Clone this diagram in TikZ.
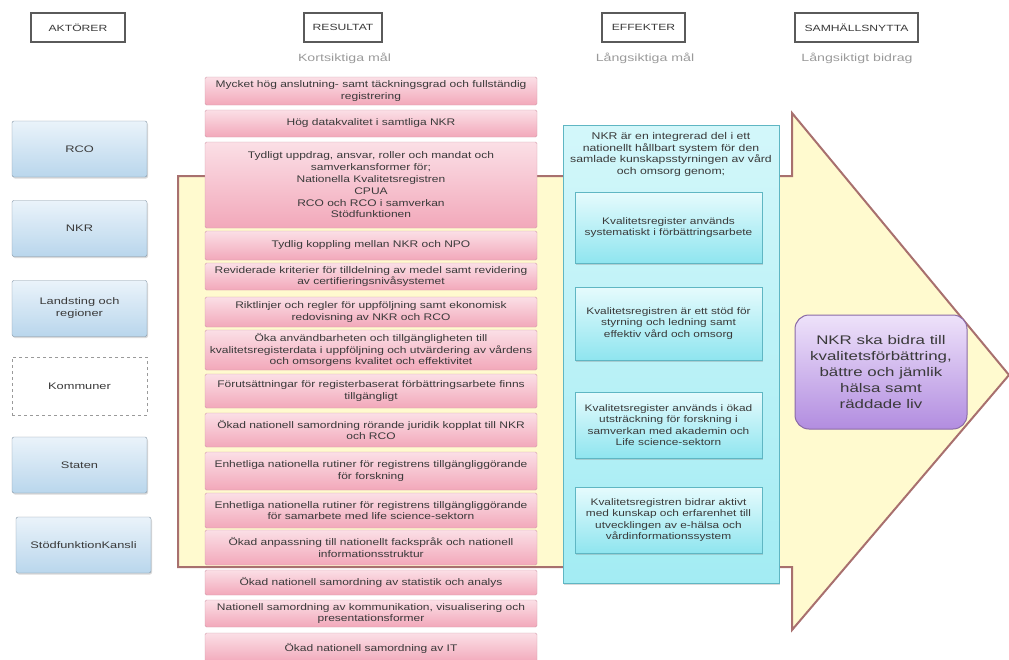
\documentclass[tikz,border=0pt]{standalone}
\usepackage{fontspec}
\setmainfont{Liberation Sans}[FakeStretch=1.25]
\newfontfamily\widerfont{Liberation Sans}[FakeStretch=1.35]
\usepackage{xcolor}
\usetikzlibrary{shadows}

\definecolor{txt}{HTML}{3A3A3A}
\definecolor{headline}{HTML}{5A5A5A}
\definecolor{subgray}{HTML}{9A9A9A}
\definecolor{actline}{HTML}{8093A3}
\definecolor{acttop}{HTML}{EAF3FA}
\definecolor{actbot}{HTML}{B9D6EC}
\definecolor{arrfill}{HTML}{FFFACF}
\definecolor{arrline}{HTML}{A8706E}
\definecolor{resline}{HTML}{D39CAB}
\definecolor{restop}{HTML}{FBDFE6}
\definecolor{resbot}{HTML}{F2A8BA}
\definecolor{effline}{HTML}{5FB6C3}
\definecolor{efftop}{HTML}{D3F7FA}
\definecolor{effbot}{HTML}{A3ECF3}
\definecolor{inntop}{HTML}{E6FBFD}
\definecolor{innbot}{HTML}{8FE5EF}
\definecolor{goalline}{HTML}{8A6AA6}
\definecolor{goaltop}{HTML}{EEE2FA}
\definecolor{goalbot}{HTML}{B28DE0}

\begin{document}
\begin{tikzpicture}[x=1pt, y=-1pt,
	header/.style={draw=headline, line width=1.8pt, fill=white, text=txt,
		minimum width=#1, minimum height=29pt,
		font=\widerfont\fontsize{9}{10}\selectfont},
	sub/.style={text=subgray, font=\widerfont\fontsize{10.5}{12}\selectfont},
	actor/.style={draw=actline, rounded corners=2pt, top color=acttop, bottom color=actbot,
		minimum width=135pt, minimum height=56pt, align=center, text=txt,
		font=\widerfont\fontsize{9.5}{12}\selectfont,
		drop shadow={opacity=0.3, shadow xshift=1pt, shadow yshift=-1.5pt}},
	result/.style={draw=resline, rounded corners=1.5pt, top color=restop, bottom color=resbot,
		minimum width=332pt, minimum height=#1, align=center, inner sep=1pt, text=txt,
		font=\fontsize{9.6}{11.8}\selectfont},
	effect/.style={draw=effline, top color=inntop, bottom color=innbot,
		minimum width=187pt, minimum height=#1, align=center, inner sep=1pt, text=txt,
		font=\fontsize{9.5}{11.3}\selectfont,
		drop shadow={opacity=0.3, shadow xshift=1pt, shadow yshift=-1.5pt}},
	goal/.style={draw=goalline, line width=1pt, rounded corners=14pt, top color=goaltop, bottom color=goalbot,
		minimum width=172pt, minimum height=114pt, align=center, text=txt,
		font=\widerfont\fontsize{12.5}{16}\selectfont}
	]

	\useasboundingbox (0,0) rectangle (1009,659);
	\clip (0,0) rectangle (1009,659);

	% Big arrow
	\coordinate (B1) at (178,176);
	\coordinate (B2) at (792,176);
	\coordinate (H1) at (792,113);
	\coordinate (tip) at (1009,375);
	\coordinate (H2) at (792,630);
	\coordinate (B3) at (792,567);
	\coordinate (B4) at (178,567);
	\draw[fill=arrfill, draw=arrline, line width=2pt, line join=miter]
		(B1) -- (B2) -- (H1) -- (tip) -- (H2) -- (B3) -- (B4) -- cycle;

	% Headings
	\node[header=94pt] (akt) at (78,27.5) {AKTÖRER};
	\node[header=78pt] (res) at (343,27.5) {RESULTAT};
	\node[header=83pt] (eff) at (643.5,27.5) {EFFEKTER};
	\node[header=123pt] (nytta) at (856.5,27.5) {SAMHÄLLSNYTTA};
	\node[sub] (kort) at (344.5,58) {Kortsiktiga mål};
	\node[sub] (lang) at (645,58) {Långsiktiga mål};
	\node[sub] (bidrag) at (857,58) {Långsiktigt bidrag};

	% Aktörer
	\node[actor] (rco) at (79.5,149) {RCO};
	\node[actor] (nkr) at (79.5,228.5) {NKR};
	\node[actor] (lands) at (79.5,308.5) {Landsting och\\regioner};
	\node[draw=subgray, dashed, line width=1pt, fill=white, minimum width=135pt, minimum height=58pt,
		text=txt, font=\widerfont\fontsize{9.5}{12}\selectfont] (komm) at (79.5,386) {Kommuner};
	\node[actor] (staten) at (79.5,465) {Staten};
	\node[actor] (kansli) at (83.5,545) {StödfunktionKansli};

	% Resultat
	\node[result=28pt] (r1) at (371,91) {Mycket hög anslutning- samt täckningsgrad och fullständig\\registrering};
	\node[result=27pt] (r2) at (371,123.5) {Hög datakvalitet i samtliga NKR};
	\node[result=86pt] (r3) at (371,185) {Tydligt uppdrag, ansvar, roller och mandat och\\samverkansformer för;\\Nationella Kvalitetsregistren\\CPUA\\RCO och RCO i samverkan\\Stödfunktionen};
	\node[result=29pt] (r4) at (371,245.5) {Tydlig koppling mellan NKR och NPO};
	\node[result=27pt] (r5) at (371,276.5) {Reviderade kriterier för tilldelning av medel samt revidering\\av certifieringsnivåsystemet};
	\node[result=30pt] (r6) at (371,312) {Riktlinjer och regler för uppföljning samt ekonomisk\\redovisning av NKR och RCO};
	\node[result=40pt] (r7) at (371,350) {Öka användbarheten och tillgängligheten till\\kvalitetsregisterdata i uppföljning och utvärdering av vårdens\\och omsorgens kvalitet och effektivitet};
	\node[result=34pt] (r8) at (371,391) {Förutsättningar för registerbaserat förbättringsarbete finns\\tillgängligt};
	\node[result=34pt] (r9) at (371,430) {Ökad nationell samordning rörande juridik kopplat till NKR\\och RCO};
	\node[result=38pt] (r10) at (371,471) {Enhetliga nationella rutiner för registrens tillgängliggörande\\för forskning};
	\node[result=35pt] (r11) at (371,510.5) {Enhetliga nationella rutiner för registrens tillgängliggörande\\för samarbete med life science-sektorn};
	\node[result=35pt] (r12) at (371,547.5) {Ökad anpassning till nationellt fackspråk och nationell\\informationsstruktur};
	\node[result=25pt] (r13) at (371,582.5) {Ökad nationell samordning av statistik och analys};
	\node[result=27pt] (r14) at (371,613.5) {Nationell samordning av kommunikation, visualisering och\\presentationsformer};
	\node[result=30pt] (r15) at (371,648) {Ökad nationell samordning av IT};

	% Effekter
	\draw[draw=effline, top color=efftop, bottom color=effbot,
		drop shadow={opacity=0.3, shadow xshift=1pt, shadow yshift=-1.5pt}]
		(563,125) rectangle (779,583);
	\node[align=center, text=txt, font=\fontsize{9.8}{11.7}\selectfont] (intro) at (671,154.5)
		{NKR är en integrerad del i ett\\nationellt hållbart system för den\\samlade kunskapsstyrningen av vård\\och omsorg genom;};
	\node[effect=71pt] (e1) at (668.5,227.5) {Kvalitetsregister används\\systematiskt i förbättringsarbete};
	\node[effect=73pt] (e2) at (668.5,323.5) {Kvalitetsregistren är ett stöd för\\styrning och ledning samt\\effektiv vård och omsorg};
	\node[effect=66pt] (e3) at (668.5,425) {Kvalitetsregister används i ökad\\utsträckning för forskning i\\samverkan med akademin och\\Life science-sektorn};
	\node[effect=66pt] (e4) at (668.5,520) {Kvalitetsregistren bidrar aktivt\\med kunskap och erfarenhet till\\utvecklingen av e-hälsa och\\vårdinformationssystem};

	% Samhällsnytta
	\node[goal] (nkrgoal) at (881,372) {NKR ska bidra till\\kvalitetsförbättring,\\bättre och jämlik\\hälsa samt\\räddade liv};
\end{tikzpicture}
\end{document}
